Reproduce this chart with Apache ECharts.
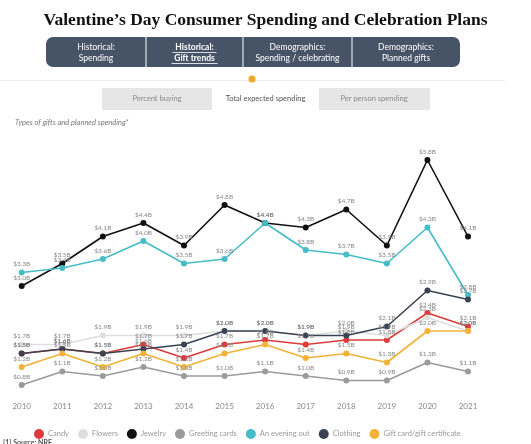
<!DOCTYPE html>
<html>
<head>
<meta charset="utf-8">
<script src="https://cdn.jsdelivr.net/npm/echarts@6/dist/echarts.min.js"></script>
<style>
html,body{margin:0;padding:0;background:#fff;}
#chart{width:531px;height:444px;}
</style>
</head>
<body>
<div id="chart"></div>
<script>
const years = ['2010','2011','2012','2013','2014','2015','2016','2017','2018','2019','2020','2021'];
const candy        = [1.5, 1.6, 1.5, 1.7, 1.4, 1.7, 1.8, 1.7, 1.8, 1.8, 2.4, 2.1];
const flowers      = [1.7, 1.7, 1.9, 1.9, 1.9, 2.0, 2.0, 1.9, 2.0, 1.9, 2.3, 2.0];
const jewelry      = [3.0, 3.5, 4.1, 4.4, 3.9, 4.8, 4.4, 4.3, 4.7, 3.9, 5.8, 4.1];
const greetingCards= [0.8, 1.1, 1.0, 1.2, 1.0, 1.0, 1.1, 1.0, 0.9, 0.9, 1.3, 1.1];
const eveningOut   = [3.3, 3.4, 3.6, 4.0, 3.5, 3.6, 4.4, 3.8, 3.7, 3.5, 4.3, 2.8];
const clothing     = [1.5, 1.6, 1.5, 1.6, 1.7, 2.0, 2.0, 1.9, 1.9, 2.1, 2.9, 2.7];
const giftCards    = [1.2, 1.5, 1.2, 1.5, 1.2, 1.5, 1.7, 1.4, 1.5, 1.3, 2.0, 2.0];

const seriesDefs = [
  {name:'Candy', data:candy, color:'#dd3b3b'},
  {name:'Flowers', data:flowers, color:'#dedede'},
  {name:'Jewelry', data:jewelry, color:'#111111'},
  {name:'Greeting cards', data:greetingCards, color:'#9b9b9b'},
  {name:'An evening out', data:eveningOut, color:'#45bcc6'},
  {name:'Clothing', data:clothing, color:'#3a4352'},
  {name:'Gift card/gift certificate', data:giftCards, color:'#f2b23a'}
];

const chart = echarts.init(document.getElementById('chart'));
const FONT = 'Lato';
const tabs = [
  {cx:96, l1:'Historical:', l2:'Spending', bold:false},
  {cx:194.5, l1:'Historical:', l2:'Gift trends', bold:true},
  {cx:297.5, l1:'Demographics:', l2:'Spending / celebrating', bold:false},
  {cx:406, l1:'Demographics:', l2:'Planned gifts', bold:false}
];
const graphics = [
  {type:'rect', shape:{x:46,y:37,width:414,height:30,r:7}, style:{fill:'#475468'}},
  {type:'line', shape:{x1:146,y1:37,x2:146,y2:67}, style:{stroke:'#ffffff',lineWidth:1}},
  {type:'line', shape:{x1:243,y1:37,x2:243,y2:67}, style:{stroke:'#ffffff',lineWidth:1}},
  {type:'line', shape:{x1:352,y1:37,x2:352,y2:67}, style:{stroke:'#ffffff',lineWidth:1}},
  {type:'line', shape:{x1:0,y1:80.5,x2:505,y2:80.5}, style:{stroke:'#ececec',lineWidth:1}},
  {type:'circle', shape:{cx:252,cy:79,r:3.5}, style:{fill:'#f0a52e'}},
  {type:'rect', shape:{x:102,y:88,width:328,height:22}, style:{fill:'#e6e6e6'}},
  {type:'rect', shape:{x:212,y:88,width:107,height:22}, style:{fill:'#ffffff'}},
  {type:'text', x:157, y:99, style:{text:'Percent buying', fill:'#8a8a8a', font:'7.5px Lato', align:'center', verticalAlign:'middle'}},
  {type:'text', x:265.5, y:99, style:{text:'Total expected spending', fill:'#555', font:'7.5px Lato', align:'center', verticalAlign:'middle'}},
  {type:'text', x:374, y:99, style:{text:'Per person spending', fill:'#8a8a8a', font:'7.5px Lato', align:'center', verticalAlign:'middle'}},
  {type:'text', x:15, y:123, style:{text:'Types of gifts and planned spending*', fill:'#777', font:'italic 7.5px Lato', verticalAlign:'middle'}},
  {type:'text', x:3, y:443, style:{text:'[1] Source: NRF', fill:'#555', font:'bold 7px Lato', verticalAlign:'middle'}}
];
tabs.forEach(t => {
  graphics.push({type:'text', x:t.cx, y:47, style:{text:t.l1, fill:'#fff', font:(t.bold?'bold ':'')+'8.5px Lato', align:'center', verticalAlign:'middle'}});
  graphics.push({type:'text', x:t.cx, y:58, style:{text:t.l2, fill:'#fff', font:(t.bold?'bold ':'')+'8.5px Lato', align:'center', verticalAlign:'middle'}});
  if (t.bold) {
    graphics.push({type:'line', shape:{x1:t.cx-22,y1:52.5,x2:t.cx+22,y2:52.5}, style:{stroke:'#fff',lineWidth:0.8}});
    graphics.push({type:'line', shape:{x1:t.cx-23,y1:63.5,x2:t.cx+23,y2:63.5}, style:{stroke:'#fff',lineWidth:0.8}});
  }
});

chart.setOption({
  animation:false,
  backgroundColor:'#ffffff',
  title:{
    text:"Valentine’s Day Consumer Spending and Celebration Plans",
    left:'center', top:6,
    textStyle:{fontFamily:'Liberation Serif', fontWeight:'bold', fontSize:17.5, color:'#111'}
  },
  graphic:graphics,
  grid:{left:21.7, right:63, top:151, height:247.5, containLabel:false},
  xAxis:{
    type:'category', data:years, boundaryGap:false,
    axisLine:{show:false}, axisTick:{show:false}, splitLine:{show:false},
    axisLabel:{color:'#8a8a8a', fontFamily:FONT, fontSize:8, margin:4}
  },
  yAxis:{type:'value', min:0.5, max:6, show:false, splitLine:{show:false}},
  legend:{
    left:29, top:424, icon:'circle', itemWidth:10, itemHeight:10, itemGap:9,
    textStyle:{color:'#999', fontFamily:FONT, fontSize:7.5, padding:[0,0,0,-1]},
    data:seriesDefs.map(s=>s.name)
  },
  series:seriesDefs.map(s=>({
    name:s.name, type:'line', data:s.data,
    symbol:'circle', symbolSize:6,
    lineStyle:{color:s.color, width:1.6},
    itemStyle:{color:s.color},
    label:{show:true, position:'top', distance:2, color:'#888', fontFamily:FONT, fontSize:6.5,
      formatter:p=>'$'+p.value.toFixed(1)+'B'}
  }))
});
</script>
</body>
</html>
